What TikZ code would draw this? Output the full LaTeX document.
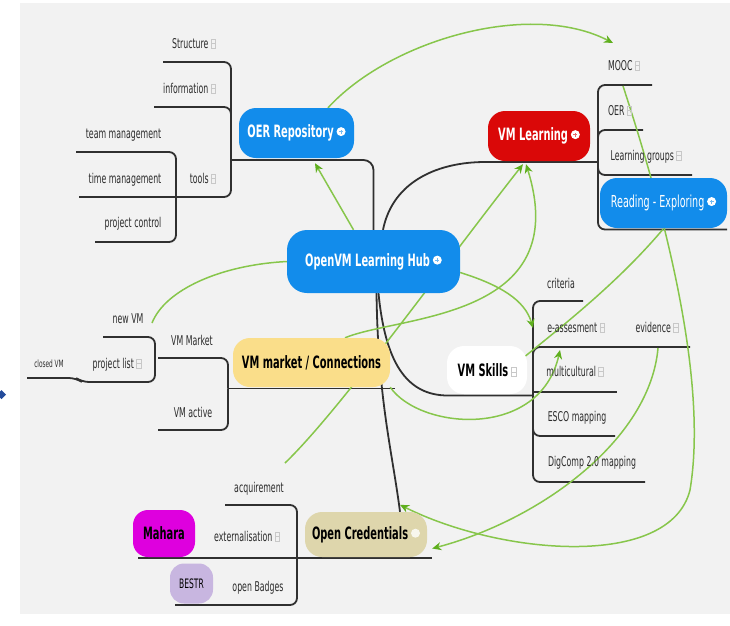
\documentclass[tikz,border=0pt]{standalone}
\usepackage{fontspec}
\setmainfont{DejaVu Sans}[FakeStretch=0.58]
\usetikzlibrary{arrows.meta,calc}
\definecolor{bgC}{RGB}{242,242,242}
\definecolor{blueC}{RGB}{18,140,235}
\definecolor{redC}{RGB}{218,8,8}
\definecolor{yellowC}{RGB}{250,222,138}
\definecolor{beigeC}{RGB}{222,214,172}
\definecolor{magC}{RGB}{222,0,222}
\definecolor{lavC}{RGB}{200,182,224}
\definecolor{greenC}{RGB}{135,198,75}
\definecolor{arrowC}{RGB}{95,175,30}
\definecolor{lineC}{RGB}{48,48,48}
\definecolor{txtC}{RGB}{45,45,45}
\definecolor{iconC}{RGB}{200,200,200}
\definecolor{diaC}{RGB}{35,75,155}
\pgfdeclarelayer{back}
\pgfdeclarelayer{lines}
\pgfsetlayers{back,lines,main}
\newcommand\gicon{\,\tikz[baseline=0pt]{\draw[iconC,line width=0.7pt,sharp corners] (0pt,0pt) rectangle (4.5pt,8.5pt) (0pt,4.25pt)--(4.5pt,4.25pt);}}
\newcommand\oicon[1]{\,\tikz[baseline=0pt]{\fill[white] (4pt,6pt) circle (4.5pt); \draw[#1!60!white,line width=0.9pt] (2pt,6pt)--(6pt,6pt) (4pt,4pt)--(4pt,8pt);}}
\newcommand\cicon{\,\tikz[baseline=0pt]{\fill[white!80!beigeC] (4pt,6pt) circle (4.5pt);}}
\begin{document}
\begin{tikzpicture}[x=1pt,y=-1pt,
  box/.style={rounded corners=17pt,inner sep=0pt,font=\fontsize{17}{20}\selectfont\bfseries},
  lbl/.style={inner sep=0pt,anchor=base,text=txtC,font=\fontsize{13.5}{15}\selectfont},
  br/.style={draw=lineC,line width=1.8pt,rounded corners=7pt},
  rel/.style={draw=greenC,line width=1.5pt},
  rela/.style={rel,-{Stealth[length=9pt,width=8pt,color=arrowC]}}]
\useasboundingbox (0,0) rectangle (730,625);

% main nodes
\node[box,fill=blueC,text=white,minimum width=115pt,minimum height=50pt] (oer) at (296.5,133) {OER Repository\oicon{blueC}};
\node[box,fill=redC,text=white,minimum width=102pt,minimum height=50pt] (vml) at (539,136) {VM Learning\oicon{redC}};
\node[box,fill=blueC,text=white,minimum width=127pt,minimum height=50pt,font=\fontsize{16.5}{19}\selectfont] (read) at (663.5,203) {Reading - Exploring\oicon{blueC}};
\node[box,fill=blueC,text=white,minimum width=173pt,minimum height=63pt,rounded corners=20pt] (hub) at (373.5,261.5) {OpenVM Learning Hub\oicon{blueC}};
\node[box,fill=yellowC,text=black,minimum width=157pt,minimum height=49pt] (vmm) at (311.5,362.5) {VM market / Connections};
\node[box,fill=white,text=black,minimum width=80pt,minimum height=48pt] (skills) at (487,370) {VM Skills\gicon};
\node[box,fill=beigeC,text=black,minimum width=122pt,minimum height=45pt] (oc) at (366,534.5) {Open Credentials\cicon};
\node[box,fill=magC,text=black,minimum width=62pt,minimum height=47pt,rounded corners=15pt] (mahara) at (164,533.5) {Mahara};
\node[box,fill=lavC,text=black,minimum width=43pt,minimum height=40pt,rounded corners=14pt,font=\fontsize{13}{15}\selectfont] (bestr) at (191.5,583.5) {BESTR};

% labels
\node[lbl] (structure) at (194,48) {Structure\gicon};
\node[lbl] (information) at (189.5,93) {information\gicon};
\node[lbl] (teamm) at (123.5,138) {team management};
\node[lbl] (timem) at (125,183) {time management};
\node[lbl] (projc) at (133,227) {project control};
\node[lbl] (tools) at (203,183) {tools\gicon};
\node[lbl] (mooc) at (624,70) {MOOC\gicon};
\node[lbl] (oerl) at (620,115) {OER\gicon};
\node[lbl] (lgroups) at (646,160) {Learning groups\gicon};
\node[lbl] (criteria) at (561,288) {criteria};
\node[lbl] (eass) at (576,332) {e-assesment\gicon};
\node[lbl] (evid) at (657,332) {evidence\gicon};
\node[lbl] (multi) at (575,376) {multicultural\gicon};
\node[lbl] (esco) at (577,421) {ESCO mapping};
\node[lbl] (digc) at (592,466) {DigComp 2.0 mapping};
\node[lbl] (newvm) at (128,323) {new VM};
\node[lbl] (vmmarket) at (192,345) {VM Market};
\node[lbl] (plist) at (117,368) {project list\gicon};
\node[lbl,font=\fontsize{10}{12}\selectfont] (closed) at (49,367) {closed VM};
\node[lbl] (vmactive) at (193,417) {VM active};
\node[lbl] (acq) at (259,492) {acquirement};
\node[lbl] (ext) at (247,541) {externalisation\gicon};
\node[lbl] (badges) at (258,591) {open Badges};

\begin{pgfonlayer}{back}
\fill[bgC] (20,3) rectangle (730,614);
\fill[diaC] (-3,394.5) -- (1.5,390) -- (6,394.5) -- (1.5,399) -- cycle;
\end{pgfonlayer}

\begin{pgfonlayer}{lines}
% OER tree
\coordinate (oerj) at (231,160);
\draw[br] (oerj) -- (231,62) -- (163,62);
\draw[br] (oerj) -- (231,107) -- (154,107);
\draw[br] (oerj) -- (231,197) -- (79,197);
\draw[br] (76,152) -- (176,152) -- (176,242) -- (95,242);
\draw[br,rounded corners=10pt] (oerj) -- (oerj -| hub.north) -- (hub.north);
% VM Learning tree
\coordinate (vmlj) at (598,162);
\draw[br] ($(hub.north)+(9.5,0)$) .. controls (393,180) and (440,162) .. (492,162) -- (vmlj);
\draw[br] (vmlj) -- (598,85) -- (652,85);
\draw[br] (vmlj) -- (598,130) -- (643,130);
\draw[br] (vmlj) -- (598,175) -- (692,175);
\draw[br] (vmlj) -- (598,229.5) -- (727,229.5);
% hub to VM market / Open Credentials
\draw[br] ($(hub.south)+(3,0)$) .. controls (378,400) and (392,450) .. ($(oc.north)+(34,0)$);
\coordinate (vmmj) at (228,388.5);
\draw[br] (vmmj) -- (395,388.5);
\draw[br] (vmmj) -- (228,358) -- (158,358);
\draw[br] (vmmj) -- (228,430) -- (158,430);
\draw[br] (103,337) -- (155,337) -- (155,382) -- (82,382) -- (76,378) -- (27,378);
% VM Skills tree
\coordinate (skj) at (533,395.5);
\draw[br] ($(hub.south)+(5,0)$) .. controls (385,360) and (405,395.5) .. (455,395.5) -- (skj);
\draw[br] (skj) -- (533,301) -- (583,301);
\draw[br] (skj) -- (533,347) -- (690,347);
\draw[br] (533,392) -- (617,392);
\draw[br] (skj) -- (533,436) -- (615,436);
\draw[br] (skj) -- (533,482) -- (645,482);
% Open Credentials tree
\coordinate (ocj) at (297,558);
\draw[br] (ocj) -- (432,558);
\draw[br] (ocj) -- (297,505) -- (225,505);
\draw[br] (ocj) -- (138,558);
\draw[br] (ocj) -- (297,605) -- (175,605);

% relations
\coordinate (g1end) at (613,43);
\coordinate (nvend) at (152,323);
\coordinate (acqstart) at (285,463);
\coordinate (eassend) at (533,328);
\coordinate (evidarr) at (560,350);
\coordinate (moocstart) at (623,86);
\coordinate (evidstart) at (658,348);
\draw[rela] ($(oer.north)+(31.5,0)$) .. controls (390,40) and (530,0) .. (g1end);
\draw[rela] ($(hub.north)+(-20,0)$) -- ($(oer.south)+(18.5,5)$);
\draw[rel] (hub.west) .. controls (220,265) and (165,290) .. (nvend);
\draw[rela] (acqstart) .. controls (340,410) and (440,270) .. ($(vml.south)+(-16,3)$);
\draw[rela] ($(vmm.north)+(33.5,0)$) .. controls (400,315) and (575,320) .. ($(vml.south)+(-13,3)$);
\draw[rela] ($(hub.east)+(0,11)$) .. controls (500,285) and (525,300) .. (eassend);
\draw[rela] (vmm.south east) .. controls (420,430) and (540,440) .. (evidarr);
\draw[rel] ($(skills.east)+(-3,-13)$) .. controls (570,320) and (620,280) .. ($(read.south)+(-0.5,1)$);
\draw[rela] (moocstart) .. controls (680,260) and (705,400) .. (690,490) .. controls (670,570) and (500,555) .. ($(oc.north)+(34,-7)$);
\draw[rela] (evidstart) .. controls (650,440) and (540,520) .. ($(oc.east)+(5,14)$);
\end{pgfonlayer}
\end{tikzpicture}
\end{document}
